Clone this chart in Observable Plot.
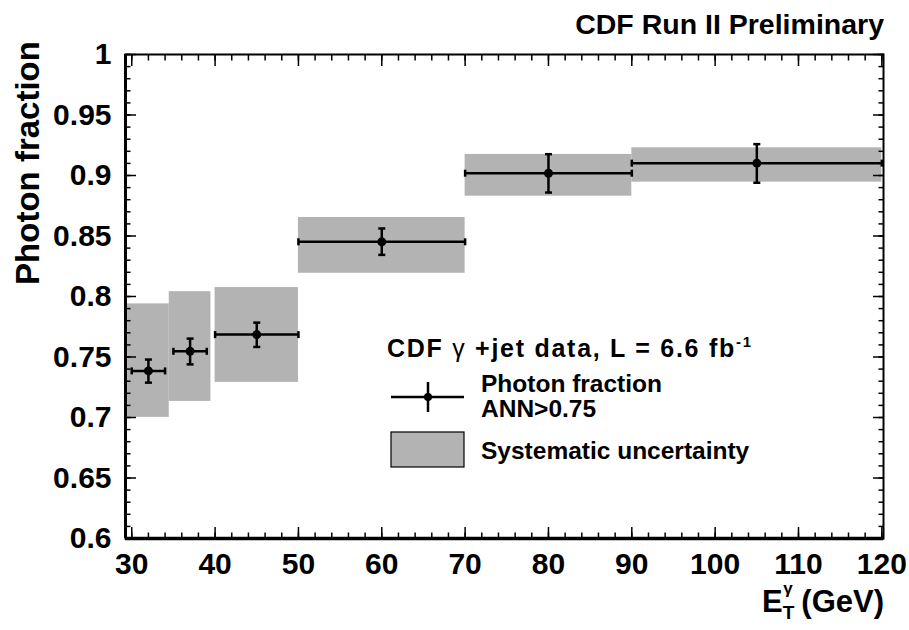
<!DOCTYPE html>
<html><head><meta charset="utf-8">
<script src="https://cdn.jsdelivr.net/npm/d3@7"></script>
<script src="https://cdn.jsdelivr.net/npm/@observablehq/plot@0.6"></script>
<style>
body{margin:0;background:#fff;}
#chart svg{display:block;}
</style>
</head><body><div id="chart"></div>
<script>
// ---- data ----
const etCenter = [32, 37, 45, 60, 80, 105];
const binLo = [30, 35, 40, 50, 70, 90];
const binHi = [34, 39, 50, 70, 90, 120];
const boxHalfWidth = [2.5, 2.5, 5, 10, 10, 15];
const photonFraction = [0.7385, 0.7547, 0.7685, 0.8452, 0.9019, 0.9102];
const statLo = [0.7288, 0.7439, 0.7583, 0.8344, 0.8859, 0.894];
const statHi = [0.7479, 0.7652, 0.7784, 0.8562, 0.9176, 0.9259];
const sysLo = [0.7001, 0.7133, 0.729, 0.8192, 0.8829, 0.8945];
const sysHi = [0.7939, 0.804, 0.8074, 0.8653, 0.9174, 0.9229];
const xTicks = [30, 40, 50, 60, 70, 80, 90, 100, 110, 120];
const xTickLabels = ["30", "40", "50", "60", "70", "80", "90", "100", "110", "120"];
const yTicks = [0.6, 0.65, 0.7, 0.75, 0.8, 0.85, 0.9, 0.95, 1];
const yTickLabels = ["0.6", "0.65", "0.7", "0.75", "0.8", "0.85", "0.9", "0.95", "1"];
const xMinorTicks = d3.range(30, 121, 2);
const yMinorTicks = d3.range(60, 101, 1).map(v => v / 100);

const rows = etCenter.map((x, i) => ({
  x, lo: binLo[i], hi: binHi[i], hw: boxHalfWidth[i],
  y: photonFraction[i], eLo: statLo[i], eHi: statHi[i], sLo: sysLo[i], sHi: sysHi[i]
}));
const ends = rows.flatMap(d => [{x: d.lo, y: d.y}, {x: d.hi, y: d.y}]);
const vEnds = rows.flatMap(d => [{x: d.x, y: d.eLo}, {x: d.x, y: d.eHi}]);

const capV = {draw(ctx) { ctx.moveTo(0, -3.5); ctx.lineTo(0, 3.5); }};
const capH = {draw(ctx) { ctx.moveTo(-3.5, 0); ctx.lineTo(3.5, 0); }};

const FONT = "'Liberation Sans', Arial, Helvetica, sans-serif";
const xFmt = d => xTickLabels[xTicks.indexOf(d)];
const yFmt = d => yTickLabels[yTicks.findIndex(t => Math.abs(t - d) < 1e-9)];
const blank = () => "";

const tickAxes = [];
for (const a of ["bottom", "top"]) {
  tickAxes.push(Plot.axisX({anchor: a, ticks: xTicks, tickSize: -11, tickFormat: blank, label: null, strokeWidth: 1.5}));
  tickAxes.push(Plot.axisX({anchor: a, ticks: xMinorTicks, tickSize: -5.5, tickFormat: blank, label: null, strokeWidth: 1.5}));
}
for (const a of ["left", "right"]) {
  tickAxes.push(Plot.axisY({anchor: a, ticks: yTicks, tickSize: -11, tickFormat: blank, label: null, strokeWidth: 1.5}));
  tickAxes.push(Plot.axisY({anchor: a, ticks: yMinorTicks, tickSize: -5.5, tickFormat: blank, label: null, strokeWidth: 1.5}));
}

const plot = Plot.plot({
  width: 909,
  height: 630,
  marginLeft: 125,
  marginRight: 26,
  marginTop: 54,
  marginBottom: 92,
  style: {fontFamily: FONT, fontWeight: "bold", background: "#fff", color: "black"},
  x: {domain: [29.25, 120.2]},
  y: {domain: [0.6, 1.0]},
  marks: [
    Plot.rect(rows, {x1: d => d.x - d.hw, x2: d => d.x + d.hw, y1: "sLo", y2: "sHi", fill: "#b3b3b3"}),
    Plot.ruleY(rows, {x1: "lo", x2: "hi", y: "y", stroke: "black", strokeWidth: 2.5}),
    Plot.ruleX(rows, {x: "x", y1: "eLo", y2: "eHi", stroke: "black", strokeWidth: 2.5}),
    Plot.dot(ends, {x: "x", y: "y", symbol: capV, stroke: "black", strokeWidth: 2.5, fill: "none"}),
    Plot.dot(vEnds, {x: "x", y: "y", symbol: capH, stroke: "black", strokeWidth: 2.5, fill: "none"}),
    Plot.dot(rows, {x: "x", y: "y", r: 4.5, fill: "black", stroke: "none"}),
    Plot.frame({stroke: "black", strokeWidth: 2}),
    Plot.ruleY([0.6], {stroke: "black", strokeWidth: 3.5}),
    Plot.ruleX([29.25], {stroke: "black", strokeWidth: 3}),
    ...tickAxes,
    Plot.axisX({anchor: "bottom", ticks: xTicks, tickSize: 0, tickPadding: 14, tickFormat: xFmt, label: null, fontSize: 30, fontWeight: "bold"}),
    Plot.axisY({anchor: "left", ticks: yTicks, tickSize: 0, tickPadding: 14, tickFormat: yFmt, label: null, fontSize: 30, fontWeight: "bold"})
  ]
});
document.getElementById("chart").append(plot);

// titles and legend as SVG text
const svg = d3.select(plot);
const txt = (x, y, size, anchor) => svg.append("text").attr("x", x).attr("y", y)
  .attr("text-anchor", anchor).attr("fill", "black")
  .style("font-family", FONT).style("font-weight", "bold").style("font-size", size + "px");

txt(884, 34, 28.5, "end").text("CDF Run II Preliminary");
svg.append("text").attr("transform", "translate(39,163) rotate(-90)").attr("text-anchor", "middle")
  .attr("fill", "black").style("font-family", FONT).style("font-weight", "bold").style("font-size", "33px")
  .text("Photon fraction");

const xt = txt(884, 612, 31, "end");
xt.append("tspan").text("E");
xt.append("tspan").attr("dy", 7).style("font-size", "19px").text("T");
xt.append("tspan").attr("dx", -11).attr("dy", -25).style("font-size", "17px").text("γ");
xt.append("tspan").attr("dy", 18).text(" (GeV)");

const hdr = txt(387, 357, 25, "start").attr("textLength", 364).attr("lengthAdjust", "spacing");
hdr.append("tspan").text("CDF ");
hdr.append("tspan").style("font-weight", "normal").text("γ");
hdr.append("tspan").text(" +jet data, L = 6.6 fb");
hdr.append("tspan").attr("dy", -10).style("font-size", "15px").text("-1");

const lg = svg.append("g");
lg.append("line").attr("x1", 391).attr("x2", 464).attr("y1", 397).attr("y2", 397).attr("stroke", "black").attr("stroke-width", 2.5);
lg.append("line").attr("x1", 428).attr("x2", 428).attr("y1", 382).attr("y2", 412).attr("stroke", "black").attr("stroke-width", 2.5);
lg.append("circle").attr("cx", 428).attr("cy", 397).attr("r", 4).attr("fill", "black");
lg.append("rect").attr("x", 391).attr("y", 432).attr("width", 73).attr("height", 35).attr("fill", "#b3b3b3").attr("stroke", "black").attr("stroke-width", 1.2);
txt(481, 392, 24.5, "start").text("Photon fraction");
txt(481, 417, 24.5, "start").text("ANN>0.75");
txt(481, 459, 24.5, "start").text("Systematic uncertainty");
</script>
</body></html>
